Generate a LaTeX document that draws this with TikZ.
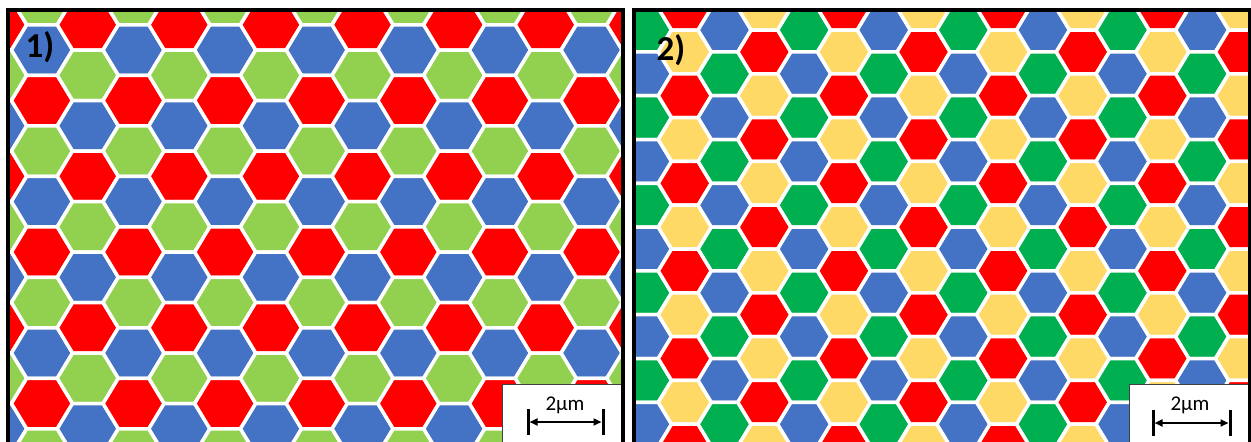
\documentclass[tikz,border=0pt]{standalone}
\usepackage{fontspec}
\setmainfont{Carlito}
\usetikzlibrary{arrows.meta}
\definecolor{p1c0}{HTML}{4472C4}
\definecolor{p1c1}{HTML}{FF0000}
\definecolor{p1c2}{HTML}{92D050}
\definecolor{p2c0}{HTML}{00B050}
\definecolor{p2c1}{HTML}{4472C4}
\definecolor{p2c2}{HTML}{FF0000}
\definecolor{p2c3}{HTML}{FFD966}
\tikzset{
  hexcell/.style={draw=white, line width=3.5pt, line join=round},
  panelframe/.style={draw=black, line width=4pt},
  scalebox/.style={fill=white, draw=black!75, line width=0.8pt},
  sbtick/.style={line width=3pt},
  sbar/.style={line width=2pt, {Triangle[length=8pt,width=7pt]}-{Triangle[length=8pt,width=7pt]}, shorten >=1.5pt, shorten <=1.5pt},
  panellabel/.style={font=\fontsize{35}{38}\selectfont\bfseries, inner sep=0pt},
  sblabel/.style={font=\fontsize{21}{24}\selectfont, inner sep=0pt},
}
\begin{document}
\begin{tikzpicture}[x=1pt,y=-1pt]
\path[use as bounding box, fill=white] (0,0) rectangle (1251,442);
% ---------- panel 1 ----------
\begin{scope}
\clip (8,10) rectangle (623,442);
\foreach \c in {-1,...,14}{
  \foreach \r in {-1,...,9}{
    \pgfmathtruncatemacro{\k}{2*\r+mod(\c+2,2)}
    \pgfmathtruncatemacro{\hh}{(\k+3*\c)/2+300}
    \pgfmathtruncatemacro{\ci}{mod(\hh,3)}
    \pgfmathsetmacro{\xx}{42+45.8*\c}
    \pgfmathsetmacro{\yy}{50+25.25*\k}
    \filldraw[hexcell, fill=p1c\ci, shift={(\xx,\yy)}] (30.53,0) -- (15.27,25.25) -- (-15.27,25.25) -- (-30.53,0) -- (-15.27,-25.25) -- (15.27,-25.25) -- cycle;
  }
}
\end{scope}
% ---------- panel 2 ----------
\begin{scope}
\clip (634,10) rectangle (1250,442);
\foreach \j in {0,...,15}{
  \foreach \r in {-1,...,10}{
    \pgfmathtruncatemacro{\k}{2*\r+mod(\j,2)}
    \pgfmathtruncatemacro{\s}{(\k+\j)/2+100}
    \pgfmathtruncatemacro{\ci}{2*mod(\j,2)+mod(\s,2)}
    \pgfmathsetmacro{\xx}{645+39.8*\j}
    \pgfmathsetmacro{\yy}{30+21.9*\k}
    \filldraw[hexcell, fill=p2c\ci, shift={(\xx,\yy)}] (26.53,0) -- (13.27,21.9) -- (-13.27,21.9) -- (-26.53,0) -- (-13.27,-21.9) -- (13.27,-21.9) -- cycle;
  }
}
\end{scope}
% ---------- labels ----------
\node[panellabel] (lab1) at (40,47) {1)};
\node[panellabel] (lab2) at (671,50) {2)};
% ---------- scale bar 1 ----------
\filldraw[scalebox] (502,384) rectangle (623,450);
\node[sblabel] (sbt1) at (565,405) {2μm};
\coordinate (s1a) at (528,422);
\coordinate (s1b) at (603,422);
\draw[sbtick] (528,409) -- (528,435);
\draw[sbtick] (603,409) -- (603,435);
\draw[sbar] (s1a) -- (s1b);
% ---------- scale bar 2 ----------
\filldraw[scalebox] (1129,384) rectangle (1250,450);
\node[sblabel] (sbt2) at (1190,405) {2μm};
\coordinate (s2a) at (1153,423);
\coordinate (s2b) at (1230,423);
\draw[sbtick] (1153,410) -- (1153,436);
\draw[sbtick] (1230,410) -- (1230,436);
\draw[sbar] (s2a) -- (s2b);
% ---------- frames ----------
\draw[panelframe] (8,446) -- (8,10) -- (623,10) -- (623,446);
\draw[panelframe] (634,446) -- (634,10) -- (1249.5,10) -- (1249.5,446);
\end{tikzpicture}
\end{document}
